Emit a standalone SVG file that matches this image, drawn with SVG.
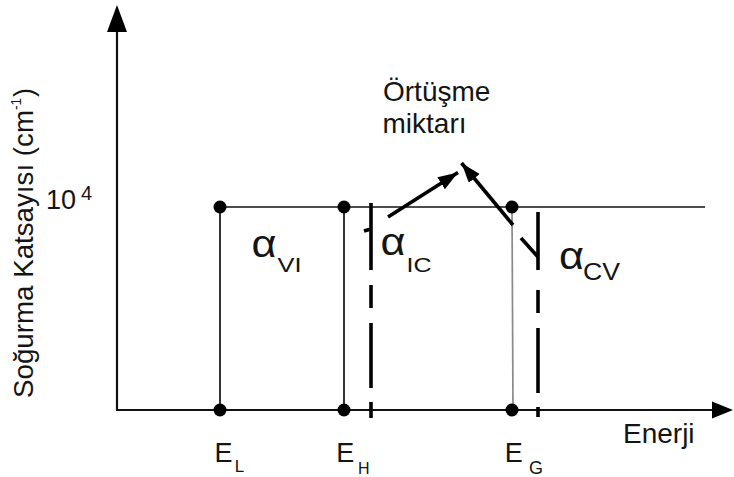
<svg xmlns="http://www.w3.org/2000/svg" width="734" height="477" viewBox="0 0 734 477">
<style>
text{font-family:"Liberation Sans",Arial,sans-serif;fill:#141414}
.ax{stroke:#111;stroke-width:2.2;fill:none}
.thin{stroke:#111;stroke-width:1.7;fill:none}
.grey{stroke:#8a8a8a;stroke-width:1.7;fill:none}
.dash{stroke:#000;stroke-width:3.6;fill:none}
.arr{stroke:#000;stroke-width:3.6;fill:none}
.dot{fill:#000}
.al{font-size:38px}
</style>
<defs>
<marker id="head" markerUnits="userSpaceOnUse" markerWidth="22" markerHeight="16" refX="20" refY="7" orient="auto">
<path d="M0,0 L20,7 L0,14 Z" fill="#000"/>
</marker>
</defs>
<g id="axes">
<line class="ax" x1="117" y1="410" x2="117" y2="28"/>
<path d="M117,5 L107,32 L127,32 Z" fill="#000"/>
<line class="ax" x1="116" y1="410" x2="714" y2="410"/>
<path d="M733,410 L712,401.5 L712,418.5 Z" fill="#000"/>
</g>
<g id="connectors">
<line class="thin" x1="220" y1="207" x2="705" y2="207"/>
<line class="thin" x1="220" y1="207" x2="220" y2="410"/>
<line class="thin" x1="344" y1="207" x2="344" y2="410"/>
<line class="grey" x1="512" y1="207" x2="513" y2="410"/>
<g id="dash-ic">
<line class="dash" x1="371" y1="203" x2="371" y2="270"/>
<line class="dash" x1="371" y1="285" x2="371" y2="308"/>
<line class="dash" x1="371" y1="323" x2="371" y2="388"/>
<line class="dash" x1="371" y1="402" x2="371" y2="418"/>
<line class="dash" x1="364" y1="231" x2="371" y2="229" stroke-width="3"/>
</g>
<g id="dash-cv">
<line class="dash" x1="538" y1="212" x2="538" y2="270"/>
<line class="dash" x1="538" y1="290" x2="538" y2="313"/>
<line class="dash" x1="538" y1="328" x2="538" y2="393"/>
<line class="dash" x1="538" y1="407" x2="538" y2="417"/>
<line class="dash" x1="521" y1="238" x2="538" y2="257"/>
</g>
<line class="arr" x1="388" y1="217" x2="458" y2="172.5" marker-end="url(#head)"/>
<line class="arr" x1="513" y1="225" x2="461.5" y2="163" marker-end="url(#head)"/>
</g>
<g id="points">
<circle class="dot" cx="220" cy="207" r="6.5"/>
<circle class="dot" cx="344" cy="207" r="6.5"/>
<circle class="dot" cx="512" cy="207" r="6.5"/>
<circle class="dot" cx="220" cy="410" r="6.5"/>
<circle class="dot" cx="344" cy="410" r="6.5"/>
<circle class="dot" cx="512" cy="410" r="6.5"/>
</g>
<g id="ylabel">
<text transform="translate(33,398) rotate(-90)" font-size="27" textLength="288" lengthAdjust="spacingAndGlyphs">Soğurma Katsayısı  (cm</text>
<text transform="translate(21,110) rotate(-90)" font-size="15" textLength="12" lengthAdjust="spacingAndGlyphs">-1</text>
<text transform="translate(33,97) rotate(-90)" font-size="27">)</text>
</g>
<g id="tick-label">
<text x="46" y="208.5" font-size="27">10</text>
<text x="81" y="200" font-size="20">4</text>
</g>
<g id="overlap-label">
<text x="383" y="101" font-size="28">Örtüşme</text>
<text x="382.5" y="133" font-size="28">miktarı</text>
</g>
<g id="alpha-VI">
<text class="al" x="251.5" y="257" textLength="25" lengthAdjust="spacingAndGlyphs">α</text>
<text x="277.5" y="271.7" font-size="20" textLength="24" lengthAdjust="spacingAndGlyphs">VI</text>
</g>
<g id="alpha-IC">
<text class="al" x="380.5" y="254.5" textLength="25" lengthAdjust="spacingAndGlyphs">α</text>
<text x="406.5" y="271.7" font-size="21" textLength="25" lengthAdjust="spacingAndGlyphs">IC</text>
</g>
<g id="alpha-CV">
<text class="al" x="559" y="268.5" textLength="25" lengthAdjust="spacingAndGlyphs">α</text>
<text x="583" y="280" font-size="24" textLength="37" lengthAdjust="spacingAndGlyphs">CV</text>
</g>
<g id="EL"><text x="214.6" y="462" font-size="27">E</text><text x="234.8" y="471.7" font-size="17">L</text></g>
<g id="EH"><text x="336.3" y="462" font-size="27">E</text><text x="358" y="474" font-size="16">H</text></g>
<g id="EG"><text x="504.7" y="462" font-size="27">E</text><text x="529" y="474" font-size="18">G</text></g>
<g id="xlabel"><text x="623" y="443.3" font-size="28">Enerji</text></g>
</svg>
